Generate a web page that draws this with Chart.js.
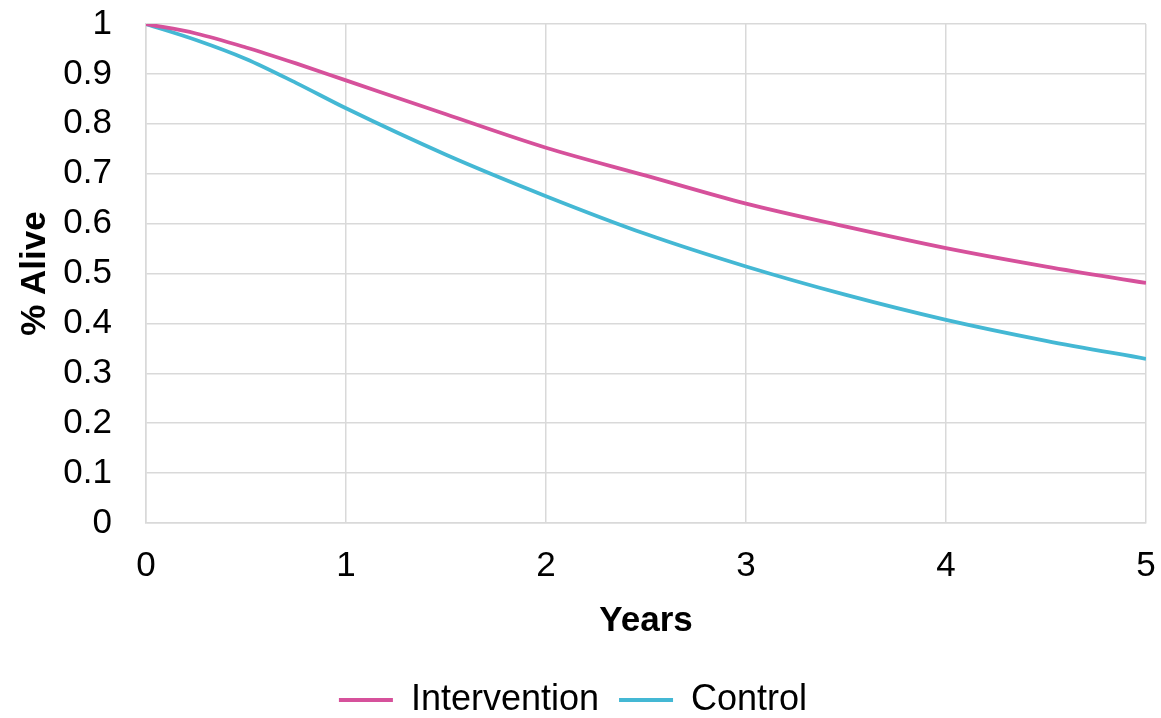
<!DOCTYPE html>
<html>
<head>
<meta charset="utf-8">
<script src="https://cdn.jsdelivr.net/npm/chart.js@4"></script>
<style>
html,body{margin:0;padding:0;background:#fff;overflow:hidden;}
canvas{display:block;}
</style>
</head>
<body>
<canvas id="c" width="1161" height="728"></canvas>
<script>
const years = [0, 0.25, 0.5, 0.75, 1, 1.5, 2, 2.5, 3, 3.5, 4, 4.5, 5];
const intervention = [1, 0.981, 0.953, 0.921, 0.887, 0.819, 0.752, 0.696, 0.640, 0.594, 0.551, 0.514, 0.481];
const control = [1, 0.968, 0.930, 0.882, 0.831, 0.738, 0.655, 0.579, 0.514, 0.457, 0.407, 0.365, 0.329];
const xTickLabels = ['0', '1', '2', '3', '4', '5'];
const yTickLabels = ['0', '0.1', '0.2', '0.3', '0.4', '0.5', '0.6', '0.7', '0.8', '0.9', '1'];

const FONT = 'Liberation Sans, Arial, sans-serif';
const gridColor = '#d9d9d9';

new Chart(document.getElementById('c'), {
  type: 'line',
  data: {
    datasets: [
      {
        label: 'Intervention',
        data: years.map((x, i) => ({x: x, y: intervention[i]})),
        borderColor: '#d6519b',
        backgroundColor: '#d6519b',
        borderWidth: 3.8,
        pointRadius: 0,
        cubicInterpolationMode: 'monotone'
      },
      {
        label: 'Control',
        data: years.map((x, i) => ({x: x, y: control[i]})),
        borderColor: '#44b8d4',
        backgroundColor: '#44b8d4',
        borderWidth: 3.8,
        pointRadius: 0,
        cubicInterpolationMode: 'monotone'
      }
    ]
  },
  options: {
    responsive: false,
    animation: false,
    layout: {padding: {left: 0, right: 15, top: 24, bottom: 0}},
    plugins: {
      tooltip: {enabled: false},
      legend: {
        position: 'bottom',
        labels: {
          usePointStyle: true,
          pointStyle: 'line',
          pointStyleWidth: 54,
          padding: 20,
          color: '#000',
          font: {family: FONT, size: 36}
        }
      }
    },
    scales: {
      x: {
        type: 'linear',
        min: 0,
        max: 5,
        afterFit: s => { s.height = 139; },
        grid: {color: gridColor, lineWidth: 1.5, drawTicks: true, tickLength: 22, tickColor: 'rgba(0,0,0,0)'},
        border: {color: gridColor, width: 1.5},
        ticks: {
          stepSize: 1,
          padding: 0,
          color: '#000',
          font: {family: FONT, size: 35},
          maxRotation: 0,
          callback: (v, i) => xTickLabels[i]
        },
        title: {
          display: true,
          text: 'Years',
          color: '#000',
          font: {family: FONT, size: 35, weight: 'bold'},
          padding: {top: 0, bottom: 20}
        }
      },
      y: {
        min: 0,
        max: 1,
        afterFit: s => { s.width = 146; },
        grid: {color: gridColor, lineWidth: 1.5, drawTicks: true, tickLength: 34, tickColor: 'rgba(0,0,0,0)'},
        border: {color: gridColor, width: 1.5},
        ticks: {
          stepSize: 0.1,
          padding: 0,
          color: '#000',
          font: {family: FONT, size: 35},
          callback: (v, i) => yTickLabels[i]
        },
        title: {
          display: true,
          text: '% Alive',
          color: '#000',
          font: {family: FONT, size: 35, weight: 'bold'},
          padding: {top: 14, bottom: 0}
        }
      }
    }
  }
});
</script>
</body>
</html>
